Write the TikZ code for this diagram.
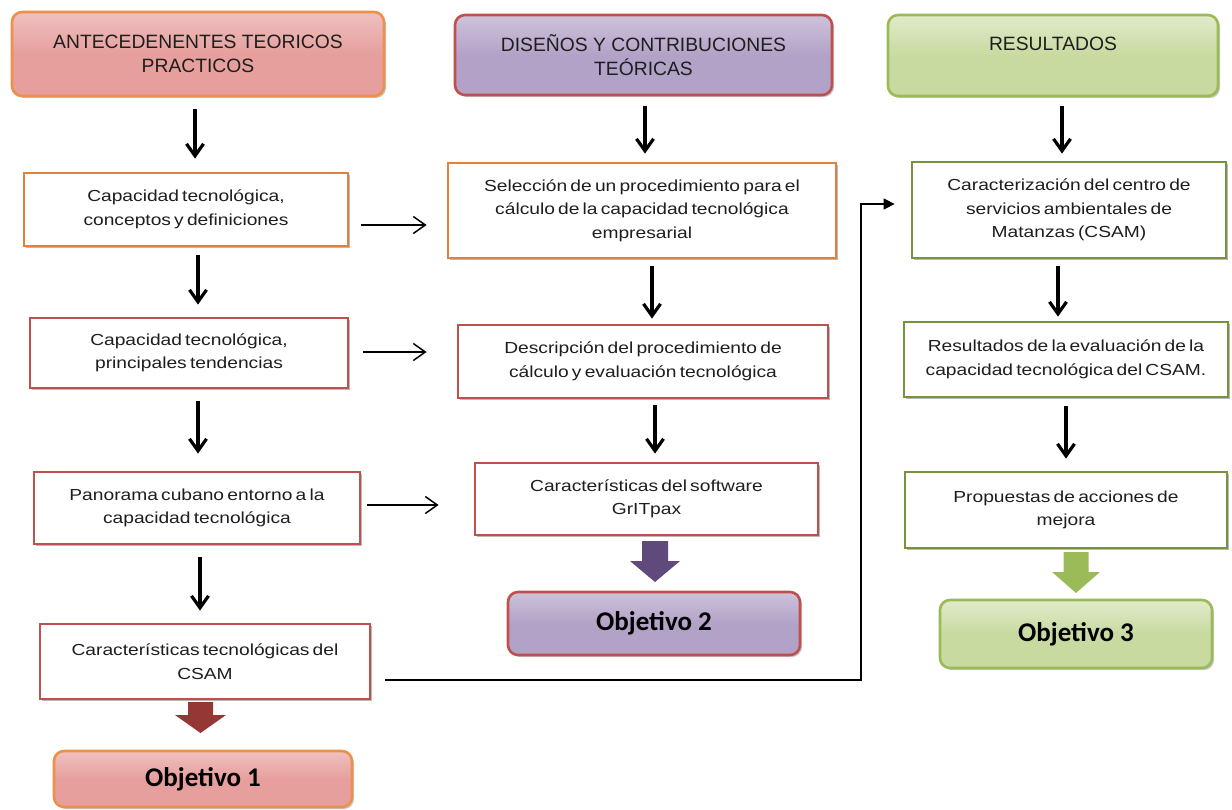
\documentclass[tikz,border=0pt]{standalone}
\usepackage{fontspec}
\setmainfont{Liberation Sans}
\newfontfamily\bodyfont[FakeStretch=1.2,WordSpace=0.6]{Liberation Sans}
\newfontfamily\objfont{Carlito}
\usetikzlibrary{arrows.meta,shadows,calc}
\definecolor{textc}{RGB}{30,30,30}
\definecolor{pinkfill}{RGB}{230,159,157}
\definecolor{orangeb}{RGB}{235,145,75}
\definecolor{orangebox}{RGB}{226,128,60}
\definecolor{redb}{RGB}{192,80,77}
\definecolor{darkred}{RGB}{149,55,53}
\definecolor{purplefill}{RGB}{179,162,199}
\definecolor{purplearr}{RGB}{96,74,123}
\definecolor{greenfill}{RGB}{200,218,160}
\definecolor{greenb}{RGB}{155,187,89}
\definecolor{greenbox}{RGB}{119,147,60}
\begin{document}
\begin{tikzpicture}[x=1pt,y=-1pt,
  box/.style={draw, line width=2.8pt, fill=white, align=center, text=textc, inner sep=0pt,
    font=\bodyfont\fontsize{16}{23.5}\selectfont,
    drop shadow={shadow xshift=2.2pt, shadow yshift=-2.2pt, opacity=0.55}},
  head/.style={draw, line width=2.6pt, rounded corners=10pt, align=center, text=textc, inner sep=0pt,
    font=\fontsize{19.3}{24}\selectfont,
    drop shadow={shadow xshift=2pt, shadow yshift=-2pt, opacity=0.45}},
  obj/.style={draw, line width=2.6pt, rounded corners=10pt, align=center, text=black, inner sep=0pt,
    font=\objfont\bfseries\fontsize{27}{30}\selectfont,
    drop shadow={shadow xshift=2pt, shadow yshift=-2pt, opacity=0.45}},
  varr/.style={line width=3.2pt, -{Straight Barb[length=12pt,width=17pt]}},
  harr/.style={line width=1.5pt, -{Straight Barb[length=12pt,width=17pt]}},
  elbarr/.style={line width=1.5pt, -{Triangle[length=11pt,width=11pt]}}
]
\useasboundingbox (0,0) rectangle (1232,809);

% ---- column 1
\node[head, draw=orangeb, top color=pinkfill!65!white, bottom color=pinkfill, middle color=pinkfill,
  minimum width=372pt, minimum height=84pt] (h1) at (198,54) {ANTECEDENENTES TEORICOS\\PRACTICOS};
\node[box, draw=orangebox, minimum width=324pt, minimum height=73pt] (c1) at (186,209.5)
  {Capacidad tecnológica,\\conceptos y definiciones};
\node[box, draw=redb, minimum width=318pt, minimum height=70pt] (c2) at (189,353)
  {Capacidad tecnológica,\\principales tendencias};
\node[box, draw=redb, minimum width=326pt, minimum height=72pt] (c3) at (197,508)
  {Panorama cubano entorno a la\\capacidad tecnológica};
\node[box, draw=redb, minimum width=330pt, minimum height=75pt] (c4) at (205,661.5)
  {Características tecnológicas del\\CSAM};
\node[obj, draw=orangeb, top color=pinkfill!65!white, bottom color=pinkfill, middle color=pinkfill,
  minimum width=298pt, minimum height=56pt] (o1) at (203,779) {Objetivo 1};

% ---- column 2
\node[head, draw=redb, top color=purplefill!65!white, bottom color=purplefill, middle color=purplefill,
  minimum width=377pt, minimum height=80pt] (h2) at (643.5,55) {DISEÑOS Y CONTRIBUCIONES\\TEÓRICAS};
\node[box, draw=orangebox, minimum width=388pt, minimum height=95pt] (d1) at (642,210.5)
  {Selección de un procedimiento para el\\cálculo de la capacidad tecnológica\\empresarial};
\node[box, draw=redb, minimum width=370pt, minimum height=73pt] (d2) at (643,361.5)
  {Descripción del procedimiento de\\cálculo y evaluación tecnológica};
\node[box, draw=redb, minimum width=343pt, minimum height=72pt] (d3) at (646.5,499)
  {Características del software\\GrITpax};
\node[obj, draw=redb, top color=purplefill!65!white, bottom color=purplefill, middle color=purplefill,
  minimum width=292pt, minimum height=63pt] (o2) at (654,623.5) {Objetivo 2};

% ---- column 3
\node[head, draw=greenb, top color=greenfill!55!white, bottom color=greenfill, middle color=greenfill,
  minimum width=330pt, minimum height=81pt] (h3) at (1053,55.5) {RESULTADOS\\~};
\node[box, draw=greenbox, minimum width=314pt, minimum height=96pt] (r1) at (1069,210)
  {Caracterización del centro de\\servicios ambientales de\\Matanzas (CSAM)};
\node[box, draw=greenbox, minimum width=324pt, minimum height=75pt] (r2) at (1066,359.5)
  {Resultados de la evaluación de la\\capacidad tecnológica del CSAM.};
\node[box, draw=greenbox, minimum width=322pt, minimum height=76pt] (r3) at (1066,510)
  {Propuestas de acciones de\\mejora};
\node[obj, draw=greenb, top color=greenfill!55!white, bottom color=greenfill, middle color=greenfill,
  minimum width=272pt, minimum height=68pt] (o3) at (1076,634) {Objetivo 3};

% ---- vertical arrows
\draw[varr, shorten <=12pt, shorten >=13pt] ([xshift=-3pt]h1.south) -- ([xshift=-3pt]h1.south |- c1.north);
\draw[varr, shorten <=8pt, shorten >=12pt] ([xshift=12pt]c1.south) -- ([xshift=12pt]c1.south |- c2.north);
\draw[varr, shorten <=12pt, shorten >=17pt] ([xshift=9pt]c2.south) -- ([xshift=9pt]c2.south |- c3.north);
\draw[varr, shorten <=12pt, shorten >=12pt] ([xshift=3pt]c3.south) -- ([xshift=3pt]c3.south |- c4.north);

\draw[varr, shorten <=10pt, shorten >=8pt] ([xshift=1.5pt]h2.south) -- ([xshift=1.5pt]h2.south |- d1.north);
\draw[varr, shorten <=7pt, shorten >=5pt] ([xshift=10pt]d1.south) -- ([xshift=10pt]d1.south |- d2.north);
\draw[varr, shorten <=6pt, shorten >=8pt] ([xshift=12pt]d2.south) -- ([xshift=12pt]d2.south |- d3.north);

\draw[varr, shorten <=9pt, shorten >=7pt] ([xshift=9pt]h3.south) -- ([xshift=9pt]h3.south |- r1.north);
\draw[varr, shorten <=7pt, shorten >=4pt] ([xshift=-11pt]r1.south) -- ([xshift=-11pt]r1.south |- r2.north);
\draw[varr, shorten <=8pt, shorten >=12pt] (r2.south) -- (r2.south |- r3.north);

% ---- horizontal arrows
\draw[harr, shorten <=12pt, shorten >=20pt] ([yshift=-15.5pt]c1.east) -- ([yshift=-15.5pt]c1.east -| d1.west);
\draw[harr, shorten <=14pt, shorten >=30pt] ([yshift=1pt]c2.east) -- ([yshift=1pt]c2.east -| d2.west);
\draw[harr, shorten <=6pt, shorten >=35pt] ([yshift=3pt]c3.east) -- ([yshift=3pt]c3.east -| d3.west);

% ---- elbow connector
\coordinate (elb) at (861,204);
\draw[elbarr, shorten <=14pt, shorten >=16pt] ([yshift=-18.5pt]c4.east) -| (elb) -- ([yshift=6pt]r1.west);

% ---- block arrows
\fill[darkred] (188,702) -- (213,702) -- (213,715) -- (226,715) -- (200.5,733) -- (175,715) -- (188,715) -- cycle;
\fill[purplearr] (642,541) -- (668,541) -- (668,561) -- (680,561) -- (655,582) -- (630,561) -- (642,561) -- cycle;
\fill[greenb] (1063.5,552) -- (1088.5,552) -- (1088.5,572) -- (1100,572) -- (1076,593) -- (1052,572) -- (1063.5,572) -- cycle;
\end{tikzpicture}
\end{document}
